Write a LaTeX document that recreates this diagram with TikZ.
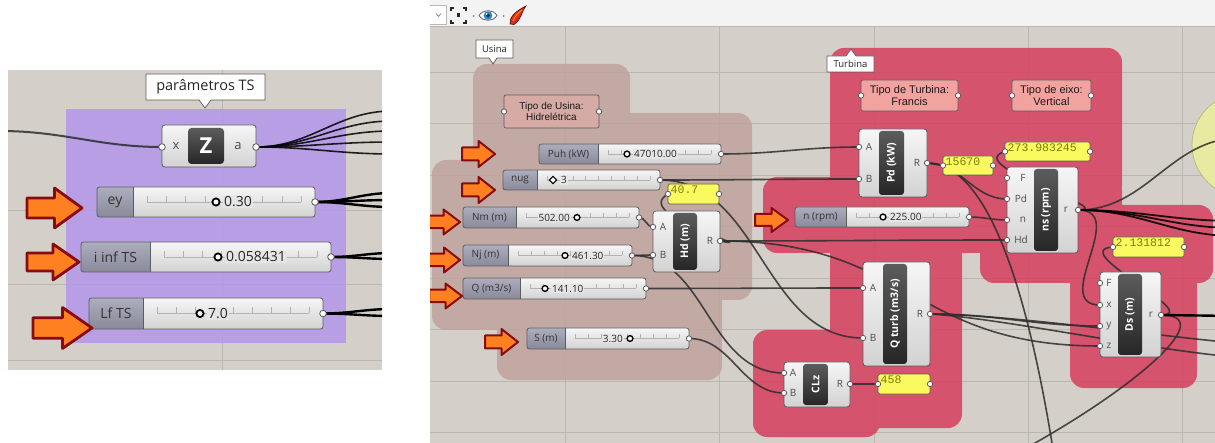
\documentclass[tikz,border=0pt]{standalone}
\usepackage{fontspec}
\setmainfont{Open Sans}
\newfontfamily\notefont{Liberation Sans}
\newfontfamily\monofont{Liberation Mono}
\pgfdeclarelayer{back}
\pgfdeclarelayer{wires}
\pgfsetlayers{back,wires,main}

\definecolor{canvas}{RGB}{212,208,201}
\definecolor{gridc}{RGB}{186,182,176}
\definecolor{toolbar}{RGB}{243,243,243}
\definecolor{usina}{RGB}{193,163,158}
\definecolor{turb}{RGB}{214,62,92}
\definecolor{lilac}{RGB}{179,150,235}
\definecolor{wirec}{RGB}{45,45,45}
\definecolor{arrowfill}{RGB}{255,128,32}
\definecolor{arrowedge}{RGB}{135,12,15}
\definecolor{panelY}{RGB}{250,250,96}
\definecolor{panelTxt}{RGB}{125,125,10}
\definecolor{noteU}{RGB}{214,170,165}
\definecolor{noteT}{RGB}{242,163,160}
\definecolor{labA}{RGB}{172,174,190}
\definecolor{labB}{RGB}{136,138,154}
\definecolor{bodyA}{RGB}{246,246,246}
\definecolor{bodyB}{RGB}{210,210,210}
\definecolor{bodyM}{RGB}{230,230,230}
\definecolor{iconA}{RGB}{92,92,92}
\definecolor{iconB}{RGB}{38,38,38}
\definecolor{edge}{RGB}{92,92,92}
\definecolor{ball}{RGB}{232,234,162}
\definecolor{eyeblue}{RGB}{40,135,205}
\definecolor{flame}{RGB}{222,45,30}

\newcommand\slabfont{\fontsize{10}{12}\selectfont}
\newcommand\plabfont{\fontsize{10}{12}\selectfont}
\newcommand\icofont{\bfseries\fontsize{10.5}{12}\selectfont}
\newcommand\notesize{\fontsize{10}{11.5}\selectfont}
\newcommand\tickpad{10}
\newcommand\tickh{4}
\newcommand\tickoff{0}
\newcommand\portr{2.7}
\newcommand\arrowlw{2pt}

\tikzset{
  gridline/.style={draw=gridc, line width=0.8pt},
  wire/.style={draw=wirec, line width=1.6pt, draw opacity=0.85},
  heavywire/.style={draw=black, line width=2.4pt},
  portdot/.style={fill=white, draw=edge, line width=0.8pt},
  knobdot/.style={fill=white, draw=black, line width=1.4pt},
  tick/.style={draw=gray!60, line width=0.5pt},
  slab/.style={font=\slabfont, text=black!80, inner sep=0pt},
  sval/.style={font=\slabfont, text=black!85, inner sep=1pt, fill=bodyM},
  plab/.style={font=\plabfont, text=black!70, inner sep=0pt},
  icontext/.style={rotate=90, font=\icofont, text=white, inner sep=0pt},
  ptext/.style={font=\monofont\fontsize{11.5}{12}\selectfont, text=panelTxt, inner sep=0pt},
  notetext/.style={font=\notefont\notesize, align=center, inner sep=0pt, text=black!90},
  blockarrow/.style={fill=arrowfill, draw=arrowedge, line width=\arrowlw, line join=round},
  callout/.style={fill=white, draw=edge, line width=0.7pt},
}

% number slider: name, x1, y1, x2, y2, label split, label, knob x
\newcommand\ghslider[8]{%
  \pgfmathsetmacro\ym{(#3+#5)/2}%
  \shade[top color=bodyA,bottom color=bodyB,rounded corners=2.5pt] (#2,#3) rectangle (#4,#5);
  \begin{scope}
    \clip (#2-1,#3-1) rectangle (#6,#5+1);
    \shade[top color=labA,bottom color=labB,rounded corners=2.5pt] (#2,#3) rectangle (#4,#5);
  \end{scope}
  \draw[draw=edge,line width=0.6pt] (#6,#3) -- (#6,#5);
  \draw[draw=edge,line width=0.8pt,rounded corners=2.5pt] (#2,#3) rectangle (#4,#5);
  \node[slab] (#1-lab) at ({(#2+#6)/2},\ym) {#7};
  \pgfmathsetmacro\ta{#6+\tickpad}%
  \pgfmathsetmacro\tb{#4-\tickpad}%
  \pgfmathsetmacro\tyy{\ym+\tickoff}%
  \draw[tick] (\ta,\tyy) -- (\tb,\tyy);
  \foreach \k in {0,...,8}{\draw[tick] ({\ta+\k*(\tb-\ta)/8},\tyy) -- ++(0,-\tickh);}
  \coordinate (#1-knob) at (#8,\ym);
  \coordinate (#1-out) at (#4,\ym);
  \draw[portdot] (#1-out) circle (\portr);
}

% component: name, x1, y1, x2, y2, icon x1, icon x2, icon text
\newcommand\ghcomp[8]{%
  \shade[top color=bodyA,bottom color=bodyB,rounded corners=3pt] (#2,#3) rectangle (#4,#5);
  \draw[draw=edge,line width=0.8pt,rounded corners=3pt] (#2,#3) rectangle (#4,#5);
  \shade[top color=iconA,bottom color=iconB,rounded corners=3pt] (#6,#3+2) rectangle (#7,#5-2);
  \node[icontext] (#1) at ({(#6+#7)/2},{(#3+#5)/2}) {#8};
}

% yellow value panel: name, x1, y1, x2, y2, text
\newcommand\ypanel[6]{%
  \draw[fill=panelY, draw=edge, line width=0.7pt, rounded corners=1.5pt] (#2,#3) rectangle (#4,#5);
  \node[ptext, anchor=north west] (#1) at (#2+2.5,#3+2) {#6};
  \coordinate (#1-in) at (#2,{(#3+#5)/2});
  \coordinate (#1-out) at (#4,{(#3+#5)/2});
  \draw[portdot] (#1-in) circle (\portr);
  \draw[portdot] (#1-out) circle (\portr);
}

% text note: name, x1, y1, x2, y2, fill, text
\newcommand\ghnote[7]{%
  \draw[fill=#6, draw=edge, line width=0.7pt, rounded corners=2pt] (#2,#3) rectangle (#4,#5);
  \node[notetext] (#1) at ({(#2+#4)/2},{(#3+#5)/2}) {#7};
  \draw[portdot] (#2,{(#3+#5)/2}) circle (\portr);
  \draw[portdot] (#4,{(#3+#5)/2}) circle (\portr);
}

% block arrow: tip x, tip y, length, height
\newcommand\blockarrow[4]{%
  \draw[blockarrow] (#1,#2) -- ++({-#3/2},{-#4/2}) -- ++(0,{#4/4}) -- ++({-#3/2},0)
    -- ++(0,{#4/2}) -- ++({#3/2},0) -- ++(0,{#4/4}) -- cycle;
}

\begin{document}
\begin{tikzpicture}[x=1pt,y=-1pt]
\useasboundingbox (0,0) rectangle (1215,443);
\begin{pgfonlayer}{back}
  \fill[white] (0,0) rectangle (1215,443);
\end{pgfonlayer}

%% ================= parameter group =================
\begin{scope}
\def\slabfont{\fontsize{14}{16}\selectfont}
\def\tickpad{14}\def\tickh{6}\def\tickoff{0}\def\portr{3.3}\def\arrowlw{2.8pt}
\begin{pgfonlayer}{back}
  \fill[canvas] (8,70) rectangle (382,370);
  \begin{scope}
    \clip (8,70) rectangle (382,370);
    \draw[gridline] (222,70) -- (222,370);
    \foreach \g in {210,284,360}{\draw[gridline] (8,\g) -- (382,\g);}
    \fill[lilac, fill opacity=0.85] (66,109) rectangle (346,343);
  \end{scope}
\end{pgfonlayer}

% callout
\draw[callout] (146,74) -- (265,74) -- (265,100) -- (211,100) -- (205,108) -- (199,100) -- (146,100) -- cycle;
\node[font=\fontsize{14.5}{16}\selectfont, text=black!85, inner sep=0pt] (ts-title) at (205.5,87) {parâmetros TS};

% relay component
\shade[top color=bodyA,bottom color=bodyB,rounded corners=3pt] (162,125) rectangle (256,167);
\draw[draw=edge,line width=0.8pt,rounded corners=3pt] (162,125) rectangle (256,167);
\shade[top color=iconA,bottom color=iconB,rounded corners=3.5pt] (188,128) rectangle (224,164);
\node[text=white, font=\bfseries\fontsize{22}{22}\selectfont, inner sep=0pt] (z-icon) at (206,146) {Z};
\node[plab, font=\fontsize{13}{14}\selectfont] (z-lx) at (176,146) {x};
\node[plab, font=\fontsize{13}{14}\selectfont] (z-la) at (238,146) {a};
\coordinate (z-in) at (162,147);
\coordinate (z-out) at (256,147);
\draw[portdot] (z-in) circle (\portr);
\draw[portdot] (z-out) circle (\portr);

% sliders
\ghslider{ey}{97}{187}{315}{217}{133}{ey}{216}
\ghslider{iinf}{81}{242}{331}{272}{150}{i inf TS}{218}
\ghslider{lf}{89}{298}{323}{329}{143}{Lf TS}{200}
\draw[knobdot, line width=1.8pt] (ey-knob) circle (3.6);
\draw[knobdot, line width=1.8pt] (iinf-knob) circle (3.6);
\draw[knobdot, line width=1.8pt] (lf-knob) circle (3.6);
\node[sval, anchor=west] (ey-val) at ([xshift=7pt]ey-knob) {0.30};
\node[sval, anchor=west] (iinf-val) at ([xshift=7pt]iinf-knob) {0.058431};
\node[sval, anchor=west] (lf-val) at ([xshift=7pt]lf-knob) {7.0};

% wires
\coordinate (src-l) at (0,131);
\coordinate (fan1) at (392,111);
\coordinate (fan2) at (392,121);
\coordinate (fan3) at (392,131);
\coordinate (fan4) at (392,142);
\coordinate (fan5) at (392,154);
\coordinate (ey-e1) at (392,193);
\coordinate (ey-e2) at (392,200);
\coordinate (ey-e3) at (392,207);
\coordinate (iinf-e1) at (392,253);
\coordinate (iinf-e2) at (392,259);
\coordinate (lf-e1) at (392,309);
\coordinate (lf-e2) at (392,316);
\begin{pgfonlayer}{wires}
  \begin{scope}
    \clip (8,70) rectangle (382,370);
    \draw[wire, line width=2pt] (src-l) to[out=0,in=180] (z-in);
    \foreach \f in {1,...,5}{\draw[wire, draw=black, line width=1.6pt] (z-out) to[out=0,in=180] (fan\f);}
    \foreach \e in {ey-e1,ey-e2,ey-e3}{\draw[heavywire] (ey-out) to[out=0,in=180] (\e);}
    \foreach \e in {iinf-e1,iinf-e2}{\draw[heavywire] (iinf-out) to[out=0,in=180] (\e);}
    \foreach \e in {lf-e1,lf-e2}{\draw[heavywire] (lf-out) to[out=0,in=180] (\e);}
  \end{scope}
\end{pgfonlayer}

% markers
\blockarrow{82}{208}{55}{40}
\blockarrow{79}{262}{52}{36}
\blockarrow{92}{328}{59}{41}
\end{scope}

%% ================= canvas with Usina / Turbina =================
\begin{scope}
\begin{pgfonlayer}{back}
  \fill[toolbar] (430,0) rectangle (1215,26);
  \fill[canvas] (430,26) rectangle (1215,443);
  \begin{scope}
    \clip (430,26) rectangle (1215,443);
    \foreach \g in {565,719,874,1028,1182}{\draw[gridline] (\g,26) -- (\g,443);}
    \foreach \g in {72,123.5,175,226.5,278,329.5,381,432.5}{\draw[gridline] (430,\g) -- (1215,\g);}
    % Usina group
    \fill[usina, fill opacity=0.85, rounded corners=14pt]
      (473,64) rectangle (630,140)
      (473,113) rectangle (752,300)
      (432,160) rectangle (722,330)
      (497,290) rectangle (722,380);
    % Turbina group
    \fill[turb, fill opacity=0.85, rounded corners=14pt]
      (830,48) rectangle (1122,200)
      (763,177) rectangle (1122,253)
      (830,240) rectangle (962,428)
      (753,330) rectangle (962,428)
      (753,400) rectangle (880,437)
      (1070,205) rectangle (1197,388)
      (980,205) rectangle (1213,283);
    \draw[fill=ball, draw=ball!80!black, line width=0.8pt] (1244,145) circle (52);
  \end{scope}
\end{pgfonlayer}
\draw[draw=gridc] (430,26) -- (1215,26);

% toolbar
\draw[fill=white, draw=gray!55, line width=0.6pt] (430,5) -- (446,5) -- (446,24) -- (430,24);
\draw[gray, line width=0.7pt] (436,13.5) -- (438.5,16.5) -- (441,13.5);
\begin{scope}[line width=2pt, draw=black!85]
  \draw (451,11) -- (451,8) -- (454,8);
  \draw (463,8) -- (466,8) -- (466,11);
  \draw (466,20) -- (466,23) -- (463,23);
  \draw (454,23) -- (451,23) -- (451,20);
\end{scope}
\fill[black!85] (457,13.5) rectangle (460,17.5);
\fill[gray] (473.5,16) circle (1);
\draw[fill=white, draw=black!65, line width=0.7pt] (479,15.5) .. controls (483,9) and (493,9) .. (497,15.5) .. controls (493,22) and (483,22) .. (479,15.5);
\fill[eyeblue] (488,15.5) circle (4.3);
\fill[black!85] (488,15.5) circle (1.9);
\fill[white] (486.6,14) circle (0.9);
\fill[gray] (503.5,16) circle (1);
\draw[fill=flame, draw=black!70!red, line width=0.6pt] (510,24) .. controls (509,17) and (516,11) .. (526,6) .. controls (521,12) and (522,19) .. (514,24.5) -- cycle;
\draw[orange!80!yellow, line width=0.8pt] (513,21) .. controls (515,16) and (518,13) .. (522,10);

% callouts
\draw[callout] (476,40) -- (513,40) -- (513,58) -- (497,58) -- (493,64) -- (489,58) -- (476,58) -- cycle;
\node[font=\fontsize{9.5}{11}\selectfont, text=black!85, inner sep=0pt] (cal-usina) at (494.5,49) {Usina};
\draw[callout] (827,56) -- (846,56) -- (851,49) -- (856,56) -- (874,56) -- (874,72) -- (827,72) -- cycle;
\node[font=\fontsize{9.5}{11}\selectfont, text=black!85, inner sep=0pt] (cal-turb) at (850.5,64) {Turbina};

% notes
\ghnote{tipoU}{504}{95}{599}{128}{noteU}{Tipo de Usina:\\Hidrelétrica}
\begin{scope}
\def\notesize{\fontsize{11}{12.5}\selectfont}
\ghnote{tipoT}{861}{80}{958}{111}{noteT}{Tipo de Turbina:\\Francis}
\ghnote{tipoE}{1012}{80}{1091}{111}{noteT}{Tipo de eixo:\\Vertical}
\end{scope}

% sliders
\ghslider{puh}{539}{144}{721}{164}{598}{Puh (kW)}{627}
\ghslider{nug}{503}{170}{660}{190}{537}{nug}{553}
\ghslider{nm}{463}{207}{639}{228}{516}{Nm (m)}{577}
\ghslider{nj}{463}{245}{632}{266}{508}{Nj (m)}{565}
\ghslider{q}{463}{278}{646}{299}{520}{Q (m3/s)}{545}
\ghslider{s}{527}{328}{689}{349}{565}{S (m)}{630}
\ghslider{n}{795}{207}{969}{227}{846}{n (rpm)}{883}
\foreach \kn in {puh,nm,nj,q,s,n}{\draw[knobdot] (\kn-knob) circle (2.9);}
\draw[knobdot, line width=1.1pt] (nug-knob) ++(0,-3.6) -- ++(3.6,3.6) -- ++(-3.6,3.6) -- ++(-3.6,-3.6) -- cycle;
\node[sval, anchor=west] (puh-val) at ([xshift=6pt]puh-knob) {47010.00};
\node[sval, anchor=west] (nug-val) at ([xshift=7pt]nug-knob) {3};
\node[sval, anchor=east] (nm-val) at ([xshift=-6pt]nm-knob) {502.00};
\node[sval, anchor=west] (nj-val) at ([xshift=6pt]nj-knob) {461.30};
\node[sval, anchor=west] (q-val) at ([xshift=6pt]q-knob) {141.10};
\node[sval, anchor=east] (s-val) at ([xshift=-6pt]s-knob) {3.30};
\node[sval, anchor=west] (n-val) at ([xshift=6pt]n-knob) {225.00};

% components
\ghcomp{hd}{653}{211}{720}{272}{673}{697}{Hd (m)}
\ghcomp{pd}{859}{129}{927}{197}{879}{904}{Pd (kW)}
\ghcomp{ns}{1007}{167}{1078}{253}{1034}{1058}{ns (rpm)}
\ghcomp{qt}{863}{262}{930}{366}{883}{907}{Q turb (m3/s)}
\ghcomp{clz}{784}{362}{850}{407}{803}{828}{CLz}
\ghcomp{ds}{1100}{272}{1161}{357}{1118}{1142}{Ds (m)}

\node[plab] (hd-la) at (663,227) {A};
\node[plab] (hd-lb) at (663,255) {B};
\node[plab] (hd-lr) at (710,241) {R};
\node[plab] (pd-la) at (869,147) {A};
\node[plab] (pd-lb) at (869,179) {B};
\node[plab] (pd-lr) at (917,163) {R};
\node[plab] (ns-lf) at (1023,178) {F};
\node[plab] (ns-lpd) at (1021,199) {Pd};
\node[plab] (ns-ln) at (1023,220) {n};
\node[plab] (ns-lhd) at (1021,240) {Hd};
\node[plab] (ns-lr) at (1066,210) {r};
\node[plab] (qt-la) at (873,288) {A};
\node[plab] (qt-lb) at (873,338) {B};
\node[plab] (qt-lr) at (920,314) {R};
\node[plab] (clz-la) at (793,373) {A};
\node[plab] (clz-lb) at (793,393) {B};
\node[plab] (clz-lr) at (840,384) {R};
\node[plab] (ds-lf) at (1109,283) {F};
\node[plab] (ds-lx) at (1109,305) {x};
\node[plab] (ds-ly) at (1109,326) {y};
\node[plab] (ds-lz) at (1109,346) {z};
\node[plab] (ds-lr) at (1151,315) {r};

\coordinate (hd-a) at (653,227);
\coordinate (hd-b) at (653,255);
\coordinate (hd-r) at (720,241);
\coordinate (pd-a) at (859,147);
\coordinate (pd-b) at (859,179);
\coordinate (pd-r) at (927,163);
\coordinate (ns-f) at (1007,178);
\coordinate (ns-pd) at (1007,199);
\coordinate (ns-n) at (1007,220);
\coordinate (ns-hd) at (1007,240);
\coordinate (ns-r) at (1078,210);
\coordinate (qt-a) at (863,288);
\coordinate (qt-b) at (863,338);
\coordinate (qt-r) at (930,314);
\coordinate (clz-a) at (784,373);
\coordinate (clz-b) at (784,393);
\coordinate (clz-r) at (850,384);
\coordinate (ds-f) at (1100,283);
\coordinate (ds-x) at (1100,305);
\coordinate (ds-y) at (1100,326);
\coordinate (ds-z) at (1100,346);
\coordinate (ds-r) at (1161,315);
\foreach \p in {hd-a,hd-b,hd-r,pd-a,pd-b,pd-r,ns-f,ns-pd,ns-n,ns-hd,ns-r,qt-a,qt-b,qt-r,clz-a,clz-b,clz-r,ds-f,ds-x,ds-y,ds-z,ds-r}{\draw[portdot] (\p) circle (\portr);}

% value panels
\ypanel{p40}{668}{184}{719}{204}{40.7}
\ypanel{p15670}{943}{156}{993}{175}{15670}
\ypanel{p273}{1005}{142}{1090}{161}{273.983245}
\ypanel{p2131}{1113}{237}{1184}{257}{2.131812}
\ypanel{p458}{878}{374}{930}{394}{458}

% off-canvas wire ends
\coordinate (bot1) at (1000,462);
\coordinate (bot2) at (1055,462);
\coordinate (ball-in) at (1240,138);
\coordinate (e1) at (1235,221);
\coordinate (e2) at (1235,228);
\coordinate (e3) at (1235,236);
\coordinate (e4) at (1235,343);
\coordinate (e5) at (1235,357);
\coordinate (edge-ds) at (1235,316);

\begin{pgfonlayer}{wires}
  \begin{scope}
    \clip (430,26) rectangle (1215,443);
    \draw[wire] (puh-out) to[out=0,in=180] (pd-a);
    \draw[wire] (nug-out) to[out=0,in=180] (pd-b);
    \draw[wire] (nug-out) .. controls (760,180) and (763,338) .. (qt-b);
    \draw[wire] (pd-r) -- (p15670-in);
    \draw[wire] (pd-r) to[out=0,in=180] (ns-pd);
    \draw[wire] (pd-r) .. controls (990,163) and (1030,300) .. (bot2);
    \draw[wire] (ns-r) .. controls (1120,210) and (960,165) .. (p273-in);
    \draw[wire] (n-out) to[out=0,in=180] (ns-n);
    \draw[wire] (hd-r) to[out=0,in=180] (ns-hd);
    \draw[wire] (hd-r) .. controls (765,250) and (630,215) .. (p40-in);
    \draw[wire] (hd-r) .. controls (910,241) and (910,346) .. (ds-z);
    \draw[wire] (nm-out) to[out=0,in=180] (hd-a);
    \draw[wire] (nj-out) to[out=0,in=180] (hd-b);
    \draw[wire] (nj-out) .. controls (707,255) and (707,373) .. (clz-a);
    \draw[wire] (q-out) to[out=0,in=180] (qt-a);
    \draw[wire] (s-out) to[out=0,in=180] (clz-b);
    \draw[wire] (clz-r) -- (p458-in);
    \draw[wire] (ns-r) .. controls (1130,210) and (1050,305) .. (ds-x);
    \draw[wire] (qt-r) to[out=0,in=180] (ds-y);
    \draw[wire] (qt-r) .. controls (1000,314) and (1150,335) .. (e4);
    \draw[wire] (qt-r) .. controls (1000,318) and (1150,350) .. (e5);
    \draw[wire] (ds-r) .. controls (1205,315) and (1065,250) .. (p2131-in);
    \draw[wire] (ds-r) .. controls (1225,315) and (1120,400) .. (bot1);
    \draw[heavywire] (ds-r) -- (edge-ds);
    \draw[wire] (ns-r) to[out=0,in=180] (ball-in);
    \draw[wire, draw=black, line width=1.8pt] (ns-r) to[out=0,in=180] (e1);
    \draw[wire, draw=black, line width=1.8pt] (ns-r) to[out=0,in=180] (e2);
    \draw[wire, draw=black, line width=1.8pt] (ns-r) to[out=0,in=180] (e3);
  \end{scope}
\end{pgfonlayer}

% markers
\begin{scope}
  \clip (430,26) rectangle (1215,443);
  \blockarrow{495}{154}{33}{26}
  \blockarrow{495}{190}{33}{26}
  \blockarrow{460}{222}{33}{25}
  \blockarrow{460}{260}{32}{25}
  \blockarrow{462}{296}{33}{25}
  \blockarrow{518}{342}{33}{26}
  \blockarrow{788}{220}{33}{24}
\end{scope}
\end{scope}
\end{tikzpicture}
\end{document}
